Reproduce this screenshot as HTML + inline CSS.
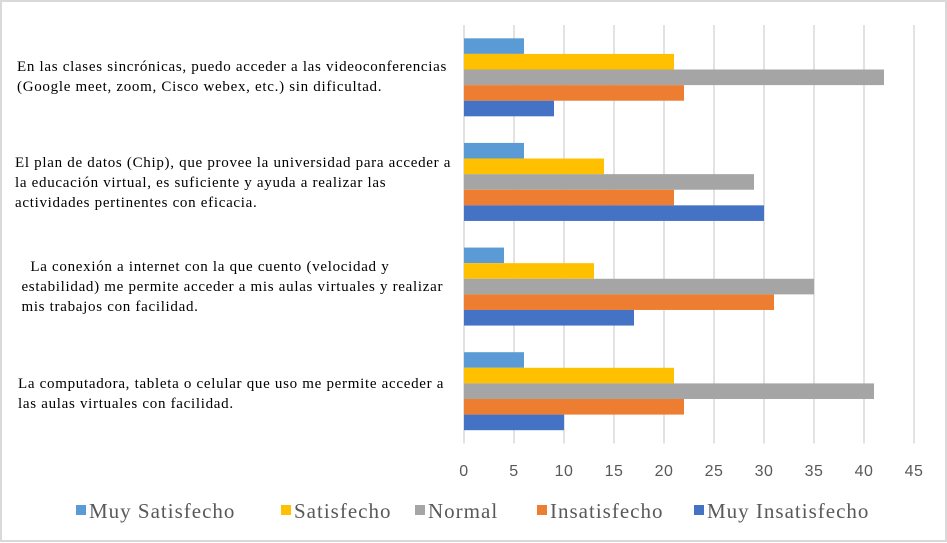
<!DOCTYPE html>
<html><head><meta charset="utf-8"><style>
body{margin:0;background:#fff;}
#c{position:relative;width:947px;height:543px;overflow:hidden;}
.lbl{position:absolute;left:0;width:460px;font:15px "Liberation Serif",serif;letter-spacing:0.7px;color:#000;line-height:20px;white-space:nowrap;}
</style></head><body>
<div id="c">
<svg id="svg" width="947" height="543">
<rect x="1" y="1" width="945" height="540" fill="#fff" stroke="#d9d9d9" stroke-width="2"/>
</svg>
<div class="lbl" style="left:17px;top:57px">En las clases sincrónicas, puedo acceder a las videoconferencias<br>(Google meet, zoom, Cisco webex, etc.) sin dificultad.</div>
<div class="lbl" style="left:15px;top:153px">El plan de datos (Chip), que provee la universidad para acceder a<br>la educación virtual, es suficiente y ayuda a realizar las<br>actividades pertinentes con eficacia.</div>
<div class="lbl" style="left:17px;top:257px;width:440px">&nbsp;&nbsp;&nbsp;La conexión a internet con la que cuento (velocidad y<br>&nbsp;estabilidad) me permite acceder a mis aulas virtuales y realizar<br>&nbsp;mis trabajos con facilidad.</div>
<div class="lbl" style="left:18px;top:374px">La computadora, tableta o celular que uso me permite acceder a<br>las aulas virtuales con facilidad.</div>
</div>
<script>
const categories=["videoconferencias","plan-datos","conexion","computadora"];
const seriesNames=["Muy Satisfecho","Satisfecho","Normal","Insatisfecho","Muy Insatisfecho"];
const colors=["#5B9BD5","#FFC000","#A5A5A5","#ED7D31","#4472C4"];
const muySatisfecho=[6,6,4,6];
const satisfecho=[21,14,13,21];
const normal=[42,29,35,41];
const insatisfecho=[22,21,31,22];
const muyInsatisfecho=[9,30,17,10];
const ticks=[0,5,10,15,20,25,30,35,40,45];
const series=[muySatisfecho,satisfecho,normal,insatisfecho,muyInsatisfecho];
const NS="http://www.w3.org/2000/svg";
const svg=document.getElementById('svg');
const x0=464,x1=914,yTop=25,yBot=443.5;
const xs=v=>x0+(v-0)/(45-0)*(x1-x0);
const band=(yBot-yTop)/categories.length;
function mk(t,a){const e=document.createElementNS(NS,t);for(const k in a)e.setAttribute(k,a[k]);svg.appendChild(e);return e;}
ticks.forEach((t,i)=>{
 const g=mk('line',{x1:xs(t),x2:xs(t),y1:yTop,y2:yBot,stroke:'#d9d9d9','stroke-width':1.5});
 
 
 const l=mk('text',{x:xs(t),y:476,'text-anchor':'middle','font-family':'Liberation Sans, sans-serif','font-size':16,'letter-spacing':0.5,fill:'#595959'});
 l.textContent=t;
 
 
});
const bh=15.6;
categories.forEach((c,ci)=>{
 const gy=yTop+band*ci+(band-bh*5)/2;
 series.forEach((s,si)=>{
  const r=mk('rect',{x:xs(0),y:gy+si*bh,width:xs(s[ci])-xs(0),height:bh,fill:colors[si]});
  
  
 });
});
const legX=[76,281,415,537,694];
seriesNames.forEach((n,i)=>{
 const r=mk('rect',{x:legX[i],y:505,width:10,height:10,fill:colors[i]});
 
 
 const t=mk('text',{x:legX[i]+13,y:518,'font-family':'Liberation Serif, serif','font-size':21,'letter-spacing':1,fill:'#595959'});
 t.textContent=n;
 
 
});
</script>
</body></html>
